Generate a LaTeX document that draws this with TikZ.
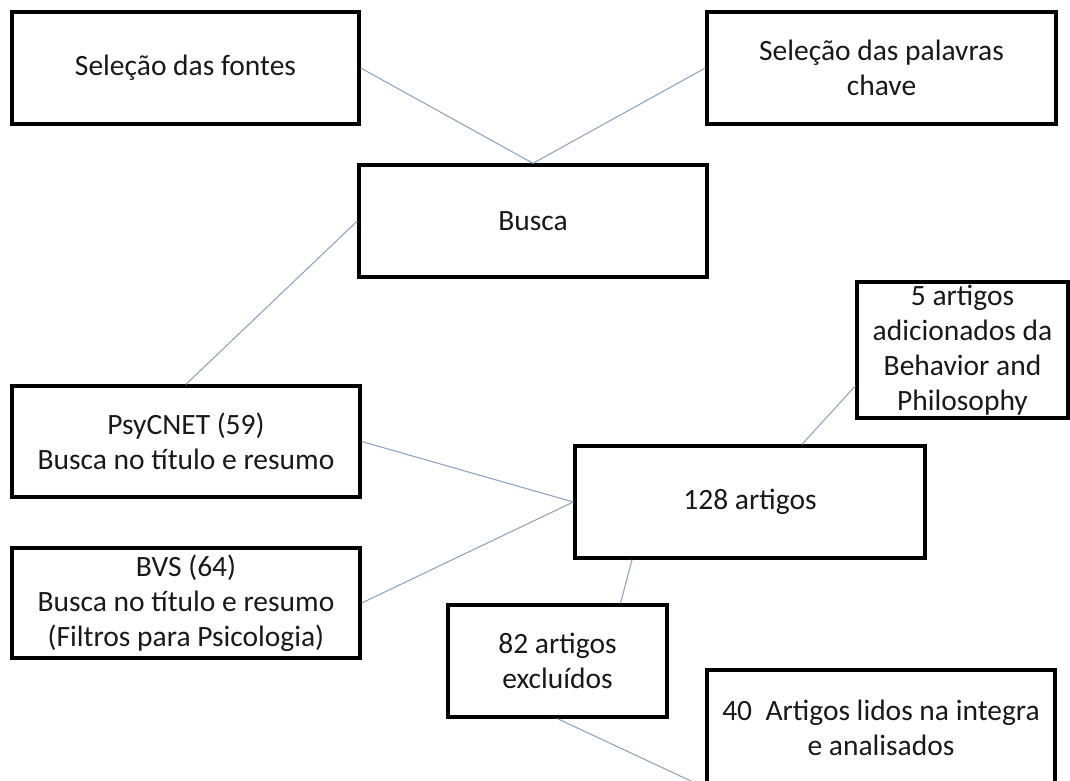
\documentclass[tikz,border=0pt]{standalone}
\usepackage{fontspec}
\setmainfont{Carlito}

\tikzstyle{flow-box}=[draw=black, line width=3.4pt, rectangle, inner sep=0pt, align=center,
                      font=\fontsize{29.5pt}{35pt}\selectfont, text=black!90]
\tikzstyle{flow-link}=[draw={link-blue}, line width=1.1pt]
\definecolor{link-blue}{HTML}{8DA6C6}

\begin{document}
\begin{tikzpicture}
       \useasboundingbox (0pt, 0pt) rectangle (1070pt, -781pt);
       \node (fontes) at (185.5pt, -68pt)
             [flow-box, minimum width=347pt, minimum height=112pt] {Seleção das fontes};
       \node (palavras) at (881.5pt, -68pt)
             [flow-box, minimum width=349pt, minimum height=112pt] {Seleção das palavras\\chave};
       \node (busca) at (533pt, -221pt)
             [flow-box, minimum width=348pt, minimum height=112pt] {Busca};
       \node (adicionados) at (962.5pt, -350pt)
             [flow-box, minimum width=211pt, minimum height=136pt] {5 artigos\\adicionados da\\Behavior and\\Philosophy};
       \node (psycnet) at (186pt, -441.5pt)
             [flow-box, minimum width=348pt, minimum height=111pt] {PsyCNET (59)\\Busca no título e resumo};
       \node (bvs) at (186pt, -603pt)
             [flow-box, minimum width=348pt, minimum height=110pt] {BVS (64)\\Busca no título e resumo\\(Filtros para Psicologia)};
       \node (artigos) at (750pt, -502pt)
             [flow-box, minimum width=350pt, minimum height=112pt] {128 artigos};
       \node (excluidos) at (557.5pt, -661pt)
             [flow-box, minimum width=219pt, minimum height=112pt] {82 artigos\\excluídos};
       \node (lidos) at (881pt, -728pt)
             [flow-box, minimum width=348pt, minimum height=116pt] {40~~Artigos lidos na integra\\e analisados};

       \draw[flow-link] (fontes.east) -- (busca.north);
       \draw[flow-link] (palavras.west) -- (busca.north);
       \draw[flow-link] (busca.west) -- (psycnet.north);
       \draw[flow-link] (psycnet.east) -- (artigos.west);
       \draw[flow-link] (bvs.east) -- (artigos.west);
       \draw[flow-link] ([yshift=-36pt]adicionados.west) -- ([xshift=52pt]artigos.north);
       \draw[flow-link] ([xshift=-118pt]artigos.south) -- ([xshift=63pt]excluidos.north);
       \draw[flow-link] (excluidos.south) -- (lidos.south west);
    \end{tikzpicture}
\end{document}
